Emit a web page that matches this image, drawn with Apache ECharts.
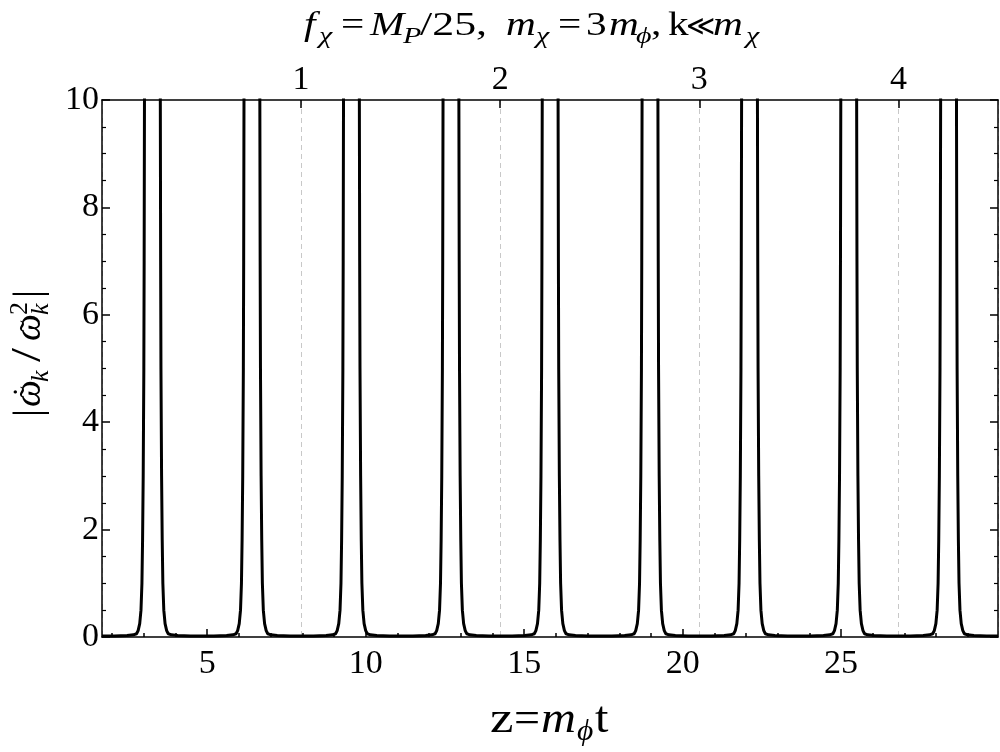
<!DOCTYPE html>
<html>
<head>
<meta charset="utf-8">
<script src="https://cdn.jsdelivr.net/npm/echarts@6/dist/echarts.min.js"></script>
<style>html,body{margin:0;padding:0;background:#fff}#c{width:1000px;height:752px}</style>
</head>
<body>
<div id="c"></div>
<script>
// ---- data ----
const zMin = 1.68;            // left edge of frame (z)
const zMax = 29.95;           // right edge of frame (z)
const peakCenters = [3.27, 6.41, 9.55, 12.69, 15.82, 18.97, 22.11, 25.24, 28.39];
// one-sided spike profile (distance from centre in z, value)
const profileOffsets = [1.20, 0.80, 0.60, 0.50, 0.45, 0.40, 0.36, 0.33, 0.31, 0.29, 0.27, 0.26, 0.25, 0.23, 0.20];
const profileValues  = [0.02, 0.03, 0.04, 0.06, 0.12, 0.25, 0.50, 1.00, 1.80, 3.00, 5.00, 7.00, 10.0, 16.0, 30.0];
const peakTopValue = 50;
const edgeValue = 0.02;
const bottomLabels = [5, 10, 15, 20, 25];
const bottomMinorTicks = [2,3,4,6,7,8,9,11,12,13,14,16,17,18,19,21,22,23,24,26,27,28,29];
const topScaleMax = 4.5;      // top axis: (z - zMin) / 2π

// build series points
const pts = [[zMin, edgeValue]];
peakCenters.forEach(c => {
  for (let i = 0; i < profileOffsets.length; i++) pts.push([c - profileOffsets[i], profileValues[i]]);
  pts.push([c, peakTopValue]);
  for (let i = profileOffsets.length - 1; i >= 0; i--) pts.push([c + profileOffsets[i], profileValues[i]]);
});
pts.push([zMax, edgeValue]);

const FF = "'Liberation Serif', 'DejaVu Serif', serif";
const chart = echarts.init(document.getElementById('c'), null, {renderer: 'canvas'});
const tickLabelStyle = {fontFamily: FF, fontSize: 34, color: '#000'};

// text piece placed by its baseline
function piece(text, x, base, size, italic, sx, align) {
  return {
    type: 'text', x: x, y: base - 0.34 * size, scaleX: sx || 1, silent: true,
    style: {
      text: text, fill: '#000',
      font: (italic ? 'italic ' : '') + size + 'px ' + FF,
      textAlign: align || 'left', textVerticalAlign: 'middle'
    }
  };
}

const S = 1.25; // title glyph widening
const titleGroup = {
  type: 'group', x: 0, y: 0, children: [
    piece('f', 304, 38, 33, true, S),
    piece('χ', 319, 45, 24, true, S),
    piece('=', 341, 38, 33, false, S),
    piece('M', 370, 38, 33, true, S),
    piece('P', 403, 45, 24, true, S),
    piece('/25,', 420, 38, 33, false, 1.33),
    piece('m', 506, 38, 33, true, S),
    piece('χ', 536, 45, 24, true, S),
    piece('=', 558, 38, 33, false, S),
    piece('3', 586, 38, 33, false, S),
    piece('m', 609, 38, 33, true, S),
    piece('ϕ', 636, 45, 24, true, S),
    piece(',', 651, 38, 33, false, S),
    piece('k', 668, 38, 33, false, S),
    piece('≪', 686, 37, 28, false, 1.0),
    piece('m', 713, 38, 33, true, S),
    piece('χ', 746, 45, 24, true, S)
  ]
};

const xNameGroup = {
  type: 'group', x: 0, y: 0, children: [
    piece('z', 490, 735, 44, false, 1.2),
    piece('=', 514, 735, 44, false, 1.05),
    piece('m', 541, 735, 44, true, 1.1),
    piece('ϕ', 577, 742, 30, true, 1.05),
    piece('t', 595, 735, 44, false, 1.1)
  ]
};

const yNameGroup = {
  type: 'group', x: 43, y: 420, rotation: Math.PI / 2, children: [
    piece('|', 3, 0, 40, false, 1),
    piece('ω', 13, 0, 38, true, 1),
    piece('\u02DC', 28, 3, 34, false, 1, 'center'),
    piece('\u02D9', 28, -6, 32, false, 1, 'center'),
    piece('k', 38, 7, 26, true, 1),
    piece('/', 58, 0, 42, false, 1.2),
    piece('ω', 79, 0, 38, true, 1),
    piece('\u02DC', 94, 3, 34, false, 1, 'center'),
    piece('2', 105, -14, 26, false, 1),
    piece('k', 105, 7, 26, true, 1),
    piece('|', 122, 0, 40, false, 1)
  ]
};

chart.setOption({
  animation: false,
  backgroundColor: '#fff',
  grid: {left: 102, right: 2, top: 100, bottom: 115, containLabel: false, outerBoundsMode: 'none'},
  xAxis: [
    {
      type: 'value', position: 'bottom', min: zMin, max: zMax,
      axisLine: {show: true, onZero: false, lineStyle: {color: '#000', width: 1.5}},
      axisTick: {show: true, inside: true, length: 8, customValues: bottomLabels, lineStyle: {color: '#000', width: 1.5}},
      axisLabel: {show: true, customValues: bottomLabels, margin: 10, ...tickLabelStyle},
      splitLine: {show: false}
    },
    {
      type: 'value', position: 'top', min: 0, max: topScaleMax, interval: 1,
      axisLine: {show: true, onZero: false, lineStyle: {color: '#000', width: 1.5}},
      axisTick: {show: true, inside: true, length: 8, lineStyle: {color: '#000', width: 1.5}},
      axisLabel: {show: true, margin: 3, showMinLabel: false, showMaxLabel: false, ...tickLabelStyle},
      splitLine: {show: true, lineStyle: {color: '#c8c8c8', width: 1, type: [5, 4]}}
    },
    {
      type: 'value', position: 'bottom', min: zMin, max: zMax,
      axisLine: {show: false, onZero: false},
      axisTick: {show: true, inside: true, length: 4, customValues: bottomMinorTicks, lineStyle: {color: '#000', width: 1.5}},
      axisLabel: {show: false},
      splitLine: {show: false}
    }
  ],
  yAxis: [
    {
      type: 'value', position: 'left', min: 0, max: 10, interval: 2,
      axisLine: {show: true, onZero: false, lineStyle: {color: '#000', width: 1.5}},
      axisTick: {show: true, inside: true, length: 8, lineStyle: {color: '#000', width: 1.5}},
      minorTick: {show: true, splitNumber: 4, length: 4, lineStyle: {color: '#000', width: 1.2}},
      axisLabel: {show: true, margin: 3, ...tickLabelStyle},
      splitLine: {show: false}
    },
    {
      type: 'value', position: 'right', min: 0, max: 10, interval: 2,
      axisLine: {show: true, onZero: false, lineStyle: {color: '#000', width: 1.5}},
      axisTick: {show: true, inside: true, length: 8, lineStyle: {color: '#000', width: 1.5}},
      minorTick: {show: true, splitNumber: 4, length: 4, lineStyle: {color: '#000', width: 1.2}},
      axisLabel: {show: false},
      splitLine: {show: false}
    }
  ],
  graphic: [titleGroup, xNameGroup, yNameGroup],
  series: [{
    type: 'line', xAxisIndex: 0, yAxisIndex: 0,
    data: pts, showSymbol: false, symbol: 'none', clip: true,
    lineStyle: {color: '#000', width: 3}
  }]
});
</script>
</body>
</html>
